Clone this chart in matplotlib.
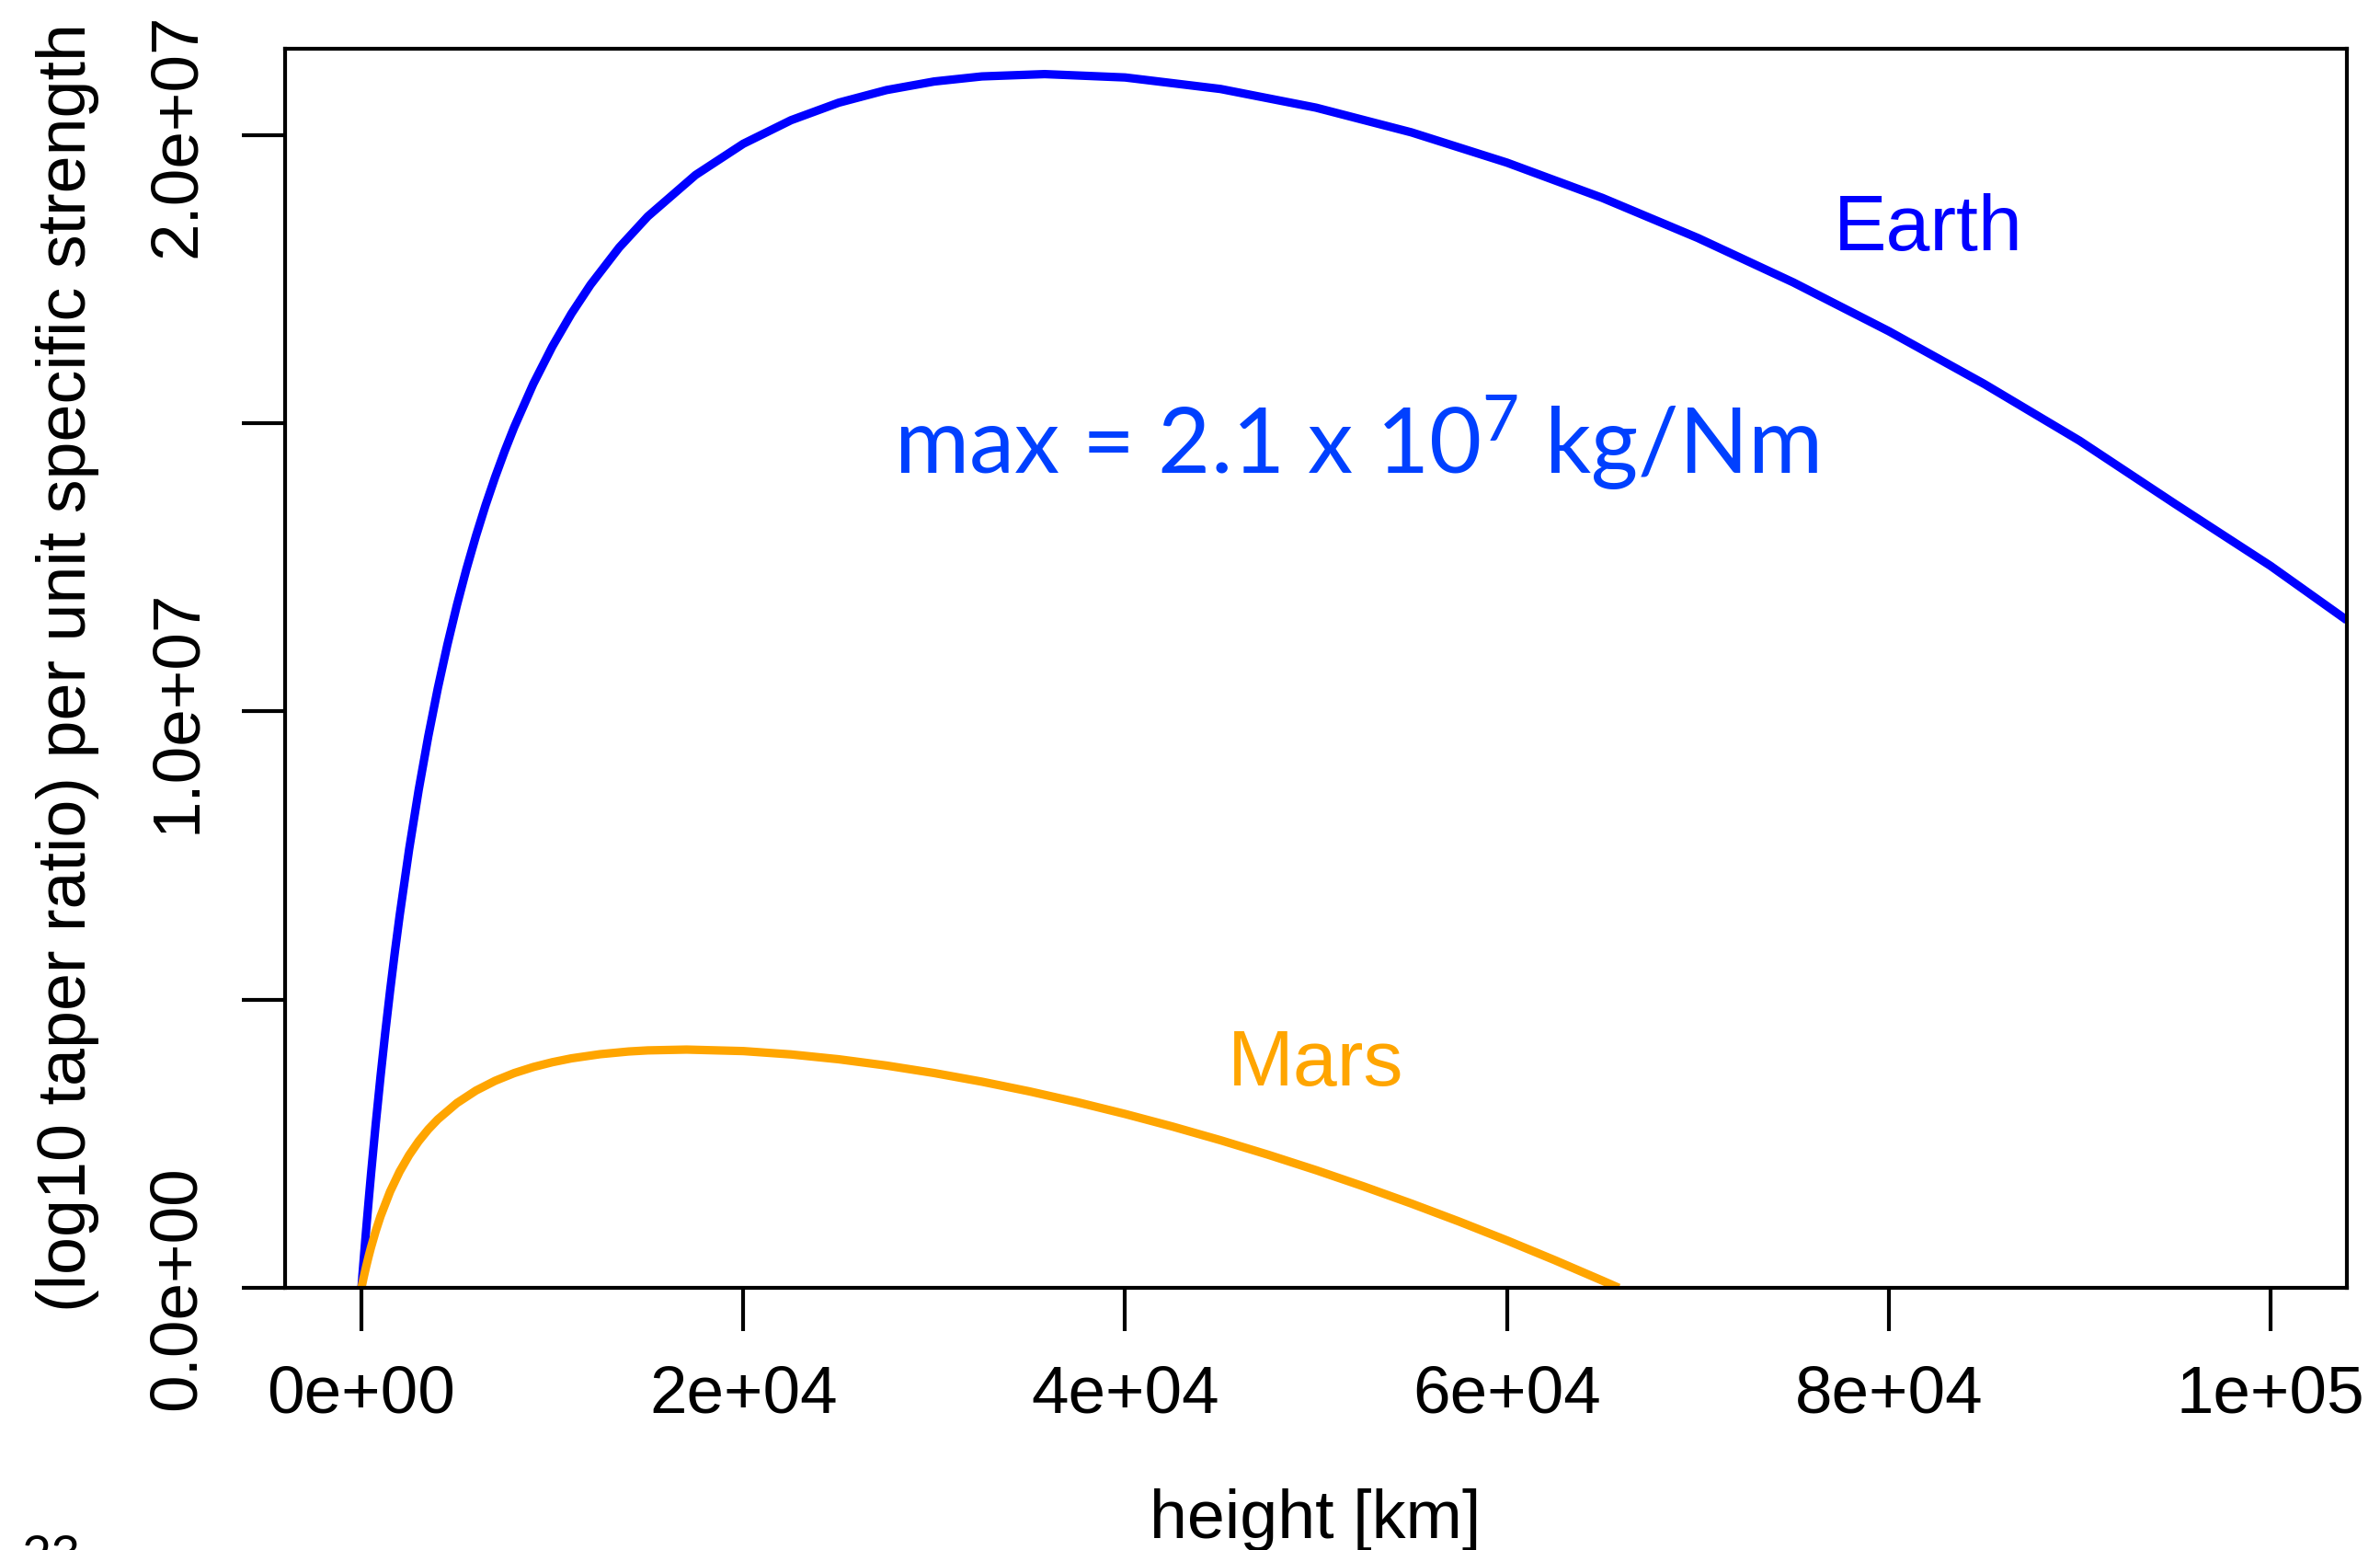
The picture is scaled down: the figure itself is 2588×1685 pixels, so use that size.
import matplotlib
matplotlib.use("Agg")
import matplotlib.pyplot as plt

# ---- data ----
earth_h = [0, 50, 100, 200, 250, 300, 400, 500, 750, 1000, 1250, 1500, 1750, 2000, 2500,
           3000, 3500, 4000, 4500, 5000, 5500, 6000, 6500, 7000, 7500, 8000, 9000, 10000,
           11000, 12000, 13500, 15000, 17500, 20000, 22500, 25000, 27500, 30000, 32500,
           35786, 40000, 45000, 50000, 55000, 60000, 65000, 70000, 75000, 80000, 85000,
           90000, 95000, 100000, 104000]
earth_v = [0.0, 0.211e6, 0.418e6, 0.824e6, 1.022e6, 1.217e6, 1.599e6, 1.970e6, 2.850e6,
           3.670e6, 4.437e6, 5.154e6, 5.826e6, 6.458e6, 7.614e6, 8.644e6, 9.569e6,
           1.0403e7, 1.1158e7, 1.1845e7, 1.2473e7, 1.3048e7, 1.3578e7, 1.4065e7, 1.4516e7,
           1.4934e7, 1.5684e7, 1.6335e7, 1.6905e7, 1.7406e7, 1.8051e7, 1.8591e7, 1.9309e7,
           1.9851e7, 2.0260e7, 2.0564e7, 2.0783e7, 2.0932e7, 2.1020e7, 2.1060e7, 2.1002e7,
           2.0802e7, 2.0478e7, 2.0049e7, 1.9524e7, 1.8912e7, 1.8217e7, 1.7446e7, 1.6600e7,
           1.5684e7, 1.4698e7, 1.3602e7, 1.2527e7, 1.1584e7]
mars_h = [0, 50, 100, 150, 250, 375, 500, 750, 1000, 1500, 2000, 2500, 3000, 3500, 4000,
          5000, 6000, 7000, 8000, 9000, 10000, 11000, 12500, 14000, 15000, 17032, 20000,
          22500, 25000, 27500, 30000, 32500, 35000, 37500, 40000, 42500, 45000, 47500,
          50000, 52500, 55000, 57500, 60000, 62500, 65000, 65860]
mars_v = [0.0, 0.079e6, 0.157e6, 0.231e6, 0.375e6, 0.544e6, 0.702e6, 0.988e6, 1.242e6,
          1.670e6, 2.017e6, 2.304e6, 2.545e6, 2.749e6, 2.923e6, 3.206e6, 3.423e6, 3.592e6,
          3.726e6, 3.831e6, 3.915e6, 3.982e6, 4.054e6, 4.101e6, 4.120e6, 4.134e6, 4.108e6,
          4.050e6, 3.966e6, 3.857e6, 3.727e6, 3.577e6, 3.408e6, 3.221e6, 3.017e6, 2.797e6,
          2.561e6, 2.309e6, 2.042e6, 1.759e6, 1.462e6, 1.150e6, 0.823e6, 0.481e6, 0.125e6,
          0.0]

x_ticks = [0, 20000, 40000, 60000, 80000, 100000]
x_labels = ["0e+00", "2e+04", "4e+04", "6e+04", "8e+04", "1e+05"]
y_ticks = [0, 5e6, 1e7, 1.5e7, 2e7]
y_labels = ["0.0e+00", "", "1.0e+07", "", "2.0e+07"]

W, H = 2588, 1685
plt.rcParams['font.family'] = ['Liberation Sans', 'DejaVu Sans']
plt.rcParams['mathtext.fontset'] = 'custom'
plt.rcParams['mathtext.rm'] = 'Lato'
plt.rcParams['mathtext.it'] = 'Lato'
fig = plt.figure(figsize=(W / 100, H / 100), dpi=100)

L, R, B, T = 310, 2552, 1400, 53
ax = fig.add_axes([L / W, 1 - B / H, (R - L) / W, (B - T) / H])

ax.plot(earth_h, earth_v, color='blue', lw=6.6, solid_capstyle='butt', solid_joinstyle='round')
ax.plot(mars_h, mars_v, color='#FFA500', lw=6.6, solid_capstyle='butt', solid_joinstyle='round')

ax.set_xlim(-4000, 104000)
ax.set_ylim(0, 2.15e7)

ax.set_xticks(x_ticks)
ax.set_xticklabels(x_labels)
ax.set_yticks(y_ticks)
ax.set_yticklabels(y_labels, rotation=90, va='center')

for s in ax.spines.values():
    s.set_linewidth(3.0)
ax.tick_params(axis='both', length=34, width=3.0, labelsize=52.5, direction='out', color='black')
ax.tick_params(axis='x', pad=26)
ax.tick_params(axis='y', pad=26)

# axis labels
fig.text(1430 / W, 1 - 1672 / H, "height [km]", ha='center', va='baseline', fontsize=53)
fig.text(74 / W, 1 - 726 / H, "(log10 taper ratio) per unit specific strength",
         ha='center', va='center', rotation=90, fontsize=53)

# curve labels
fig.text(2097 / W, 1 - 250 / H, "Earth", color='blue', ha='center', va='center', fontsize=62)
fig.text(1431 / W, 1 - 1158 / H, "Mars", color='#FFA500', ha='center', va='center', fontsize=62)

fig.text(1475 / W, 1 - 515 / H, r"max = 2.1 x 10$^{\mathrm{7}}$ kg/Nm", color='#0040FF',
         ha='center', va='baseline', fontsize=71, family='Lato')

# slide number (partially cut at the bottom edge, as in the reference)
fig.text(23 / W, 1 - 1668 / H, "23", ha='left', va='top', fontsize=40, family='Lato')

fig.savefig("out.png", dpi=100)
